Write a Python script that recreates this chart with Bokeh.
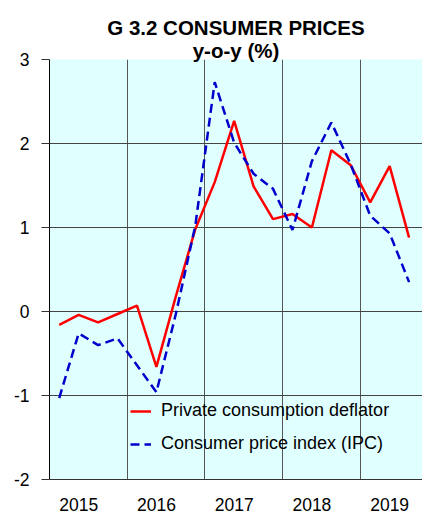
from bokeh.plotting import figure
from bokeh.models import FixedTicker, Range1d, Legend, LegendItem, ColumnDataSource, Title
from bokeh.embed import file_html
from bokeh.resources import INLINE

# ---- data ----
quarters = ["2015Q1", "2015Q2", "2015Q3", "2015Q4",
            "2016Q1", "2016Q2", "2016Q3", "2016Q4",
            "2017Q1", "2017Q2", "2017Q3", "2017Q4",
            "2018Q1", "2018Q2", "2018Q3", "2018Q4",
            "2019Q1", "2019Q2", "2019Q3"]
years = ["2015", "2016", "2017", "2018", "2019"]
deflator = [-0.16, -0.04, -0.13, -0.03,
            0.07, -0.66, 0.18, 0.98,
            1.54, 2.27, 1.49, 1.10,
            1.16, 1.00, 1.92, 1.74,
            1.30, 1.73, 0.88]
ipc = [-1.03, -0.26, -0.40, -0.32,
       -0.64, -0.96, -0.03, 1.02,
       2.73, 2.01, 1.64, 1.46,
       0.97, 1.79, 2.25, 1.75,
       1.14, 0.93, 0.35]
y_ticks = [-2, -1, 0, 1, 2, 3]
y_tick_labels = ["-2", "-1", "0", "1", "2", "3"]
title_1 = "G 3.2 CONSUMER PRICES"
title_2 = "y-o-y (%)"
name_deflator = "Private consumption deflator"
name_ipc = "Consumer price index (IPC)"

# quarter positions (centre of each quarter, in quarter units from start of 2015)
x = [i + 0.5 for i in range(len(quarters))]
src = ColumnDataSource(dict(x=x, deflator=deflator, ipc=ipc, q=quarters))

FONT = "Liberation Sans"

p = figure(width=422, height=513, output_backend="svg", toolbar_location=None,
           x_range=Range1d(0, 19.19), y_range=Range1d(-2, 3),
           min_border_left=49, min_border_right=0, min_border_top=59, min_border_bottom=30)

p.background_fill_color = "#E0FFFF"
p.border_fill_color = "white"
p.outline_line_color = None

# axes
p.yaxis.ticker = FixedTicker(ticks=y_ticks)
p.yaxis.major_label_overrides = {t: s for t, s in zip(y_ticks, y_tick_labels)}
p.yaxis.major_tick_out = 8
p.yaxis.major_tick_in = 0
p.yaxis.minor_tick_line_color = None
p.yaxis.major_tick_line_color = "#333333"
p.yaxis.axis_line_color = "black"
p.yaxis.major_label_standoff = 12
p.yaxis.major_label_text_font = FONT
p.yaxis.major_label_text_font_size = "17.5px"
p.yaxis.major_label_text_color = "black"

year_pos = [4 * i + 1.5 for i in range(len(years))]
p.xaxis.ticker = FixedTicker(ticks=year_pos)
p.xaxis.major_label_overrides = {pos: yr for pos, yr in zip(year_pos, years)}
p.xaxis.major_tick_line_color = None
p.xaxis.minor_tick_line_color = None
p.xaxis.axis_line_color = "#333333"
p.xaxis.major_label_standoff = 12
p.xaxis.major_label_text_font = FONT
p.xaxis.major_label_text_font_size = "17.5px"
p.xaxis.major_label_text_color = "black"

# grids
p.xgrid.ticker = FixedTicker(ticks=[4 * i for i in range(1, len(years))])
p.xgrid.grid_line_color = "#555555"
p.xgrid.grid_line_width = 1
p.ygrid.ticker = FixedTicker(ticks=y_ticks)
p.ygrid.grid_line_color = "#444444"
p.ygrid.grid_line_width = 1

# lines
r1 = p.line("x", "deflator", source=src, line_color="#FF0000", line_width=2.5)
r2 = p.line("x", "ipc", source=src, line_color="#0000CC", line_width=2.5, line_dash="9 5")

legend = Legend(items=[LegendItem(label=name_deflator, renderers=[r1]),
                       LegendItem(label=name_ipc, renderers=[r2])],
                location=(81, 25), padding=0, margin=0, spacing=12,
                glyph_width=21, glyph_height=20, label_height=20, label_standoff=10,
                background_fill_alpha=0, border_line_color=None,
                label_text_font=FONT, label_text_font_size="18px", label_text_color="black")
p.add_layout(legend, "center")

# titles: first added sits closest to the plot
p.add_layout(Title(text=title_2, align="center", offset=-8.5, standoff=-4,
                   text_font=FONT, text_font_style="bold", text_font_size="20.5px",
                   text_color="black"), "above")
p.add_layout(Title(text=title_1, align="center", offset=-8.5, standoff=0,
                   text_font=FONT, text_font_style="bold", text_font_size="20.5px",
                   text_color="black"), "above")

open("out.html", "w").write(file_html(p, INLINE))
